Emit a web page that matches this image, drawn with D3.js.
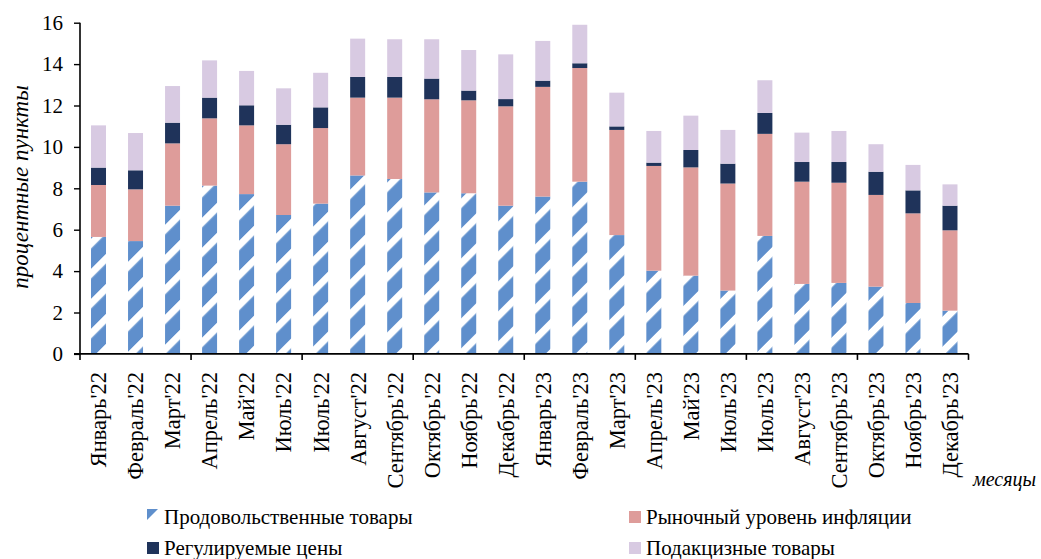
<!DOCTYPE html>
<html>
<head>
<meta charset="utf-8">
<script src="https://cdn.jsdelivr.net/npm/d3@7"></script>
<style>
  body { margin: 0; background: #fff; }
  svg { display: block; font-family: "Liberation Serif", "Times New Roman", serif; }
</style>
</head>
<body>
<div id="chart"></div>
<script>
// months (labels as in the source, incl. the doubled "Июль")
var months = ["Январь'22", "Февраль'22", "Март'22", "Апрель'22", "Май'22", "Июль'22",
  "Июль'22", "Август'22", "Сентябрь'22", "Октябрь'22", "Ноябрь'22", "Декабрь'22",
  "Январь'23", "Февраль'23", "Март'23", "Апрель'23", "Май'23", "Июль'23",
  "Июль'23", "Август'23", "Сентябрь'23", "Октябрь'23", "Ноябрь'23", "Декабрь'23"];

// contributions, percentage points
var food      = [5.65, 5.45, 7.16, 8.13, 7.72, 6.71, 7.26, 8.62, 8.45, 7.80, 7.76, 7.16,
                 7.60, 8.32, 5.74, 4.02, 3.78, 3.06, 5.70, 3.38, 3.43, 3.25, 2.46, 2.09];
var market    = [2.51, 2.50, 3.01, 3.25, 3.32, 3.42, 3.65, 3.76, 3.93, 4.50, 4.49, 4.80,
                 5.30, 5.49, 5.08, 5.06, 5.23, 5.17, 4.93, 4.94, 4.84, 4.43, 4.33, 3.88];
var regulated = [0.84, 0.92, 1.00, 1.00, 0.97, 0.94, 1.00, 1.00, 1.00, 1.00, 0.47, 0.35,
                 0.30, 0.23, 0.17, 0.16, 0.84, 0.96, 1.01, 0.95, 1.00, 1.12, 1.11, 1.19];
var excise    = [2.04, 1.80, 1.77, 1.80, 1.66, 1.76, 1.67, 1.85, 1.82, 1.90, 1.96, 2.16,
                 1.92, 1.86, 1.63, 1.53, 1.66, 1.63, 1.58, 1.42, 1.50, 1.33, 1.23, 1.03];

var seriesNames = ["Продовольственные товары", "Рыночный уровень инфляции",
                   "Регулируемые цены", "Подакцизные товары"];
var yTicks = [0, 2, 4, 6, 8, 10, 12, 14, 16];

var W = 1041, H = 559;
var plotL = 80, plotR = 968.5, plotT = 22.7, plotB = 353.9;
var fs = 21;

var svg = d3.select("#chart").append("svg")
    .attr("width", W)
    .attr("height", H);

var defs = svg.append("defs");
var pat = defs.append("pattern")
    .attr("id", "hatch")
    .attr("patternUnits", "userSpaceOnUse")
    .attr("width", 21.2)
    .attr("height", 21.2)
    .attr("patternTransform", "rotate(-45)");
pat.append("rect").attr("width", 21.2).attr("height", 21.2).attr("fill", "#5f8fcc");
pat.append("rect").attr("y", 0).attr("width", 21.2).attr("height", 7).attr("fill", "#fff");

var table = months.map(function(m, i) {
  return { i: i, food: food[i], market: market[i], regulated: regulated[i], excise: excise[i] };
});
var keys = ["food", "market", "regulated", "excise"];
var fills = { food: "url(#hatch)", market: "#de9c9a", regulated: "#1f335a", excise: "#d8cae2" };

var x = d3.scaleBand()
    .domain(d3.range(months.length))
    .range([plotL, plotR])
    .paddingInner(0.595)
    .paddingOuter(0.2975);

var y = d3.scaleLinear()
    .domain([0, 16])
    .range([plotB, plotT]);

var stacked = d3.stack().keys(keys)(table);

svg.append("g")
  .selectAll("g")
  .data(stacked)
  .enter().append("g")
    .attr("fill", function(d) { return fills[d.key]; })
  .selectAll("rect")
  .data(function(d) { return d; })
  .enter().append("rect")
    .attr("x", function(d) { return x(d.data.i); })
    .attr("width", x.bandwidth())
    .attr("y", function(d) { return y(d[1]); })
    .attr("height", function(d) { return y(d[0]) - y(d[1]); });

// y axis
var yAxis = svg.append("g")
    .attr("transform", "translate(" + plotL + ",0)")
    .call(d3.axisLeft(y).tickValues(yTicks).tickSize(6).tickPadding(11).tickFormat(d3.format("d")));
yAxis.select(".domain").attr("stroke", "#000").attr("stroke-width", 1.6).attr("d", "M0," + plotT + "V" + plotB);
yAxis.selectAll(".tick line").attr("stroke", "#000").attr("stroke-width", 1.4);
yAxis.selectAll("text")
    .attr("font-size", fs)
    .attr("font-family", "Liberation Serif")
    .attr("fill", "#000");

// x axis line + quarter ticks
var step = x.step();
svg.append("line")
    .attr("x1", plotL - 6).attr("x2", plotR)
    .attr("y1", plotB).attr("y2", plotB)
    .attr("stroke", "#000").attr("stroke-width", 1.6);
svg.append("g")
  .selectAll("line")
  .data(d3.range(0, months.length + 1, 3))
  .enter().append("line")
    .attr("x1", function(k) { return plotL + k * step; })
    .attr("x2", function(k) { return plotL + k * step; })
    .attr("y1", plotB)
    .attr("y2", plotB + 6)
    .attr("stroke", "#000")
    .attr("stroke-width", 1.6);

svg.append("g")
  .selectAll("text")
  .data(months)
  .enter().append("text")
    .attr("transform", function(d, i) {
      return "translate(" + (x(i) + x.bandwidth() / 2) + "," + (plotB + 18) + ") rotate(-90)";
    })
    .attr("text-anchor", "end")
    .attr("dy", "0.35em")
    .attr("font-size", 22.5)
    .text(function(d) { return d; });

// axis titles
svg.append("text")
    .attr("transform", "translate(28,187) rotate(-90)")
    .attr("text-anchor", "middle")
    .attr("font-size", 23)
    .attr("font-style", "italic")
    .text("процентные пункты");

svg.append("text")
    .attr("x", 1036)
    .attr("y", 486)
    .attr("text-anchor", "end")
    .attr("font-size", 20)
    .attr("font-style", "italic")
    .text("месяцы");

// legend
var legendPos = [[147, 517], [629, 517], [147, 548], [629, 548]];
var lg = svg.append("g")
  .selectAll("g")
  .data(keys)
  .enter().append("g")
    .attr("transform", function(d, i) { return "translate(" + legendPos[i][0] + "," + legendPos[i][1] + ")"; });

lg.each(function(k) {
  var g = d3.select(this);
  if (k === "food") {
    g.append("path").attr("d", "M0,-8L11,-8L0,3Z").attr("fill", "#5f8fcc");
  } else {
    g.append("rect").attr("x", 0).attr("y", -6).attr("width", 12).attr("height", 12).attr("fill", fills[k]);
  }
});
lg.append("text")
    .attr("x", 17)
    .attr("dy", "0.33em")
    .attr("font-size", fs)
    .text(function(d, i) { return seriesNames[i]; });
</script>
</body>
</html>
